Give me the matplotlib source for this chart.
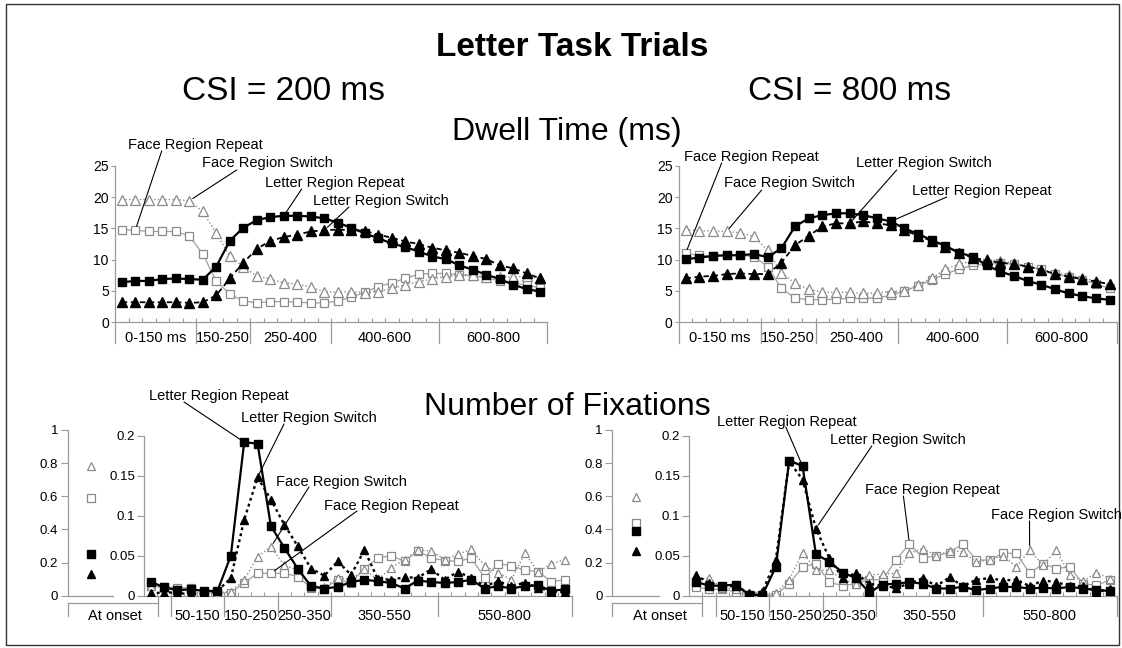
import numpy as np
import matplotlib
matplotlib.use('Agg')
import matplotlib.pyplot as plt
from matplotlib import transforms
from matplotlib.lines import Line2D
from matplotlib.patches import Rectangle
from matplotlib.ticker import FuncFormatter

# ---------------- data ----------------
# time bins (index 0..31, 25 ms bins)
dwell_groups = ["0-150 ms", "150-250", "250-400", "400-600", "600-800"]
fix_groups = ["50-150", "150-250", "250-350", "350-550", "550-800"]

# Dwell time (ms), CSI = 200 ms
dw200_face_switch = [19.6, 19.6, 19.6, 19.6, 19.6, 19.4, 17.7, 14.2, 10.6, 8.9, 7.4, 6.9, 6.3, 6.1, 5.6, 4.9,
                     4.8, 4.9, 4.7, 4.9, 5.4, 6.0, 6.5, 6.9, 7.3, 7.6, 7.6, 7.3, 7.3, 7.2, 7.4, 7.0]
dw200_face_repeat = [14.8, 14.7, 14.5, 14.5, 14.5, 13.8, 10.9, 6.6, 4.5, 3.4, 3.1, 3.3, 3.3, 3.2, 3.1, 3.1,
                     3.4, 4.0, 4.8, 5.7, 6.3, 7.0, 7.7, 7.8, 7.8, 7.6, 7.4, 7.1, 6.6, 6.3, 5.9, 5.5]
dw200_letter_repeat = [6.4, 6.6, 6.6, 6.9, 7.0, 6.9, 6.8, 8.9, 13.0, 15.1, 16.3, 16.8, 17.0, 17.0, 16.9, 16.6,
                       15.9, 15.1, 14.2, 13.4, 12.6, 12.0, 11.3, 10.5, 10.1, 9.1, 8.4, 7.6, 6.9, 6.0, 5.3, 4.9]
dw200_letter_switch = [3.2, 3.2, 3.2, 3.2, 3.2, 3.1, 3.2, 4.3, 7.0, 9.5, 11.7, 13.0, 13.6, 14.0, 14.5, 14.7,
                       14.8, 14.7, 14.6, 14.0, 13.5, 12.9, 12.5, 11.9, 11.5, 11.1, 10.6, 10.1, 9.1, 8.6, 7.8, 7.0]

# Dwell time (ms), CSI = 800 ms
dw800_face_switch = [14.8, 14.6, 14.6, 14.5, 14.3, 13.7, 11.5, 7.9, 6.2, 5.3, 4.8, 4.8, 4.8, 4.6, 4.7, 4.9,
                     5.0, 6.0, 7.0, 8.5, 9.3, 9.8, 10.1, 9.8, 9.4, 8.9, 8.4, 7.9, 7.6, 7.1, 6.6, 6.1]
dw800_face_repeat = [11.0, 10.7, 10.6, 10.7, 10.7, 10.5, 8.9, 5.4, 3.9, 3.6, 3.6, 3.7, 3.8, 3.8, 3.9, 4.3,
                     5.0, 5.8, 6.8, 7.7, 8.5, 9.1, 9.3, 9.4, 9.3, 8.9, 8.5, 7.7, 7.3, 6.8, 6.1, 5.4]
dw800_letter_repeat = [10.1, 10.3, 10.6, 10.7, 10.7, 10.9, 10.4, 11.8, 15.3, 16.6, 17.1, 17.4, 17.4, 17.1, 16.6, 16.1,
                       15.0, 14.1, 13.1, 12.2, 11.1, 10.5, 9.1, 8.1, 7.4, 6.6, 6.0, 5.3, 4.6, 4.2, 3.8, 3.6]
dw800_letter_switch = [7.0, 7.3, 7.4, 7.7, 7.8, 7.7, 7.7, 9.5, 12.3, 13.8, 15.3, 15.8, 15.8, 16.1, 15.8, 15.5,
                       14.7, 13.8, 13.0, 12.1, 11.1, 10.3, 9.9, 9.5, 9.3, 8.9, 8.4, 7.7, 7.3, 6.9, 6.5, 6.1]

# Number of fixations, CSI = 200 ms
fx200_face_switch = [0.012, 0.010, 0.008, 0.005, 0.003, 0.004, 0.005, 0.020, 0.049, 0.061, 0.038, 0.032, 0.011,
                     0.011, 0.022, 0.020, 0.033, 0.020, 0.035, 0.045, 0.057, 0.056, 0.045, 0.052, 0.058, 0.0375,
                     0.029, 0.020, 0.053, 0.030, 0.040, 0.045]
fx200_face_repeat = [0.0125, 0.011, 0.010, 0.010, 0.004, 0.003, 0.004, 0.016, 0.028, 0.028, 0.028, 0.024, 0.010,
                     0.009, 0.020, 0.016, 0.034, 0.047, 0.050, 0.043, 0.056, 0.047, 0.044, 0.043, 0.047, 0.0225,
                     0.040, 0.0375, 0.032, 0.030, 0.0175, 0.020]
fx200_letter_repeat = [0.0175, 0.0104, 0.007, 0.008, 0.006, 0.006, 0.050, 0.192, 0.190, 0.087, 0.060, 0.034, 0.012,
                       0.009, 0.011, 0.017, 0.020, 0.018, 0.016, 0.009, 0.019, 0.017, 0.016, 0.017, 0.020, 0.009,
                       0.012, 0.009, 0.012, 0.013, 0.006, 0.008]
fx200_letter_switch = [0.003, 0.004, 0.004, 0.001, 0.003, 0.006, 0.022, 0.095, 0.148, 0.120, 0.089, 0.062, 0.034,
                       0.025, 0.043, 0.026, 0.057, 0.021, 0.020, 0.023, 0.0225, 0.033, 0.020, 0.030, 0.022, 0.012,
                       0.018, 0.012, 0.016, 0.010, 0.005, 0.005]

# Number of fixations, CSI = 800 ms
fx800_face_switch = [0.020, 0.022, 0.010, 0.008, 0.001, 0.001, 0.003, 0.020, 0.054, 0.032, 0.032, 0.020, 0.015,
                     0.026, 0.027, 0.028, 0.053, 0.059, 0.050, 0.056, 0.055, 0.042, 0.045, 0.050, 0.036, 0.057,
                     0.038, 0.057, 0.026, 0.018, 0.029, 0.021]
fx800_face_repeat = [0.011, 0.008, 0.008, 0.005, 0.000, 0.000, 0.001, 0.015, 0.036, 0.040, 0.017, 0.0125, 0.015,
                     0.020, 0.020, 0.045, 0.065, 0.047, 0.050, 0.054, 0.065, 0.0446, 0.0446, 0.053, 0.053, 0.028,
                     0.040, 0.034, 0.036, 0.015, 0.013, 0.0196]
fx800_letter_repeat = [0.0175, 0.0125, 0.0125, 0.014, 0.001, 0.001, 0.036, 0.169, 0.162, 0.052, 0.0425, 0.029, 0.022,
                       0.004, 0.014, 0.015, 0.017, 0.015, 0.009, 0.009, 0.011, 0.007, 0.009, 0.011, 0.011, 0.009,
                       0.010, 0.009, 0.011, 0.009, 0.007, 0.006]
fx800_letter_switch = [0.026, 0.016, 0.012, 0.012, 0.003, 0.005, 0.045, 0.168, 0.145, 0.084, 0.047, 0.022, 0.028,
                       0.015, 0.012, 0.010, 0.015, 0.022, 0.012, 0.023, 0.012, 0.020, 0.022, 0.019, 0.020, 0.012,
                       0.019, 0.017, 0.012, 0.012, 0.005, 0.008]

# "At onset" values: face switch, face repeat, letter repeat, letter switch
onset200 = [0.78, 0.59, 0.25, 0.13]
onset800 = [0.594, 0.44, 0.39, 0.27]

# ---------------- figure ----------------
W, H = 1122, 648
plt.rcParams['font.family'] = ['Liberation Sans', 'DejaVu Sans']
fig = plt.figure(figsize=(W / 100, H / 100), dpi=100)
AXC = '#9a9a9a'
GRAY = '#8a8a8a'


def px_axes(x0, x1, ytop, ybot):
    return fig.add_axes([x0 / W, 1 - ybot / H, (x1 - x0) / W, (ybot - ytop) / H])


def fig_line(xs, ys, **kw):
    fig.add_artist(Line2D([x / W for x in xs], [1 - y / H for y in ys],
                          transform=fig.transFigure, **kw))


def styles(bottom):
    ms = 5.8 if bottom else 6.4
    return {
        'fs': dict(marker='^', mfc='white', mec=GRAY, color=GRAY, ls=(0, (1, 1.6)), lw=1.0, ms=ms + 0.6, mew=0.9),
        'fr': dict(marker='s', mfc='white', mec=GRAY, color='#a0a0a0', ls='-', lw=0.9, ms=ms, mew=0.9),
        'ls': dict(marker='^', mfc='black', mec='black', color='black',
                   ls=(0, (1.2, 1.4)) if bottom else (0, (3, 2)), lw=1.7 if bottom else 1.3, ms=ms + 0.6),
        'lr': dict(marker='s', mfc='black', mec='black', color='black', ls='-', lw=1.6, ms=ms),
    }


def main_panel(x0, x1, ytop, ybot, series, ylim, yticks, ytfs, bounds, centers, labels,
               sep_px, lab_px, tick_len, bottom):
    ax = px_axes(x0, x1, ytop, ybot)
    hpx = ybot - ytop
    x = np.arange(32)
    st = styles(bottom)
    for key in ['fr', 'fs', 'ls', 'lr']:
        ax.plot(x, series[key], **st[key], zorder=3)
    for s in ['top', 'right']:
        ax.spines[s].set_visible(False)
    for s in ['left', 'bottom']:
        ax.spines[s].set_color(AXC)
        ax.spines[s].set_linewidth(0.9)
    ax.set_yticks(yticks)
    ax.yaxis.set_major_formatter(FuncFormatter(lambda v, p: f'{v:g}'))
    ax.tick_params(axis='y', direction='out', length=tick_len, width=0.8, color=AXC,
                   labelsize=ytfs, pad=1.5)
    ax.set_xticks([])
    ax.set_xticks(np.arange(0.5, 31, 1), minor=True)
    ax.tick_params(axis='x', which='minor', direction='in', length=3, width=0.8, color=AXC)
    ax.patch.set_visible(False)
    tr = transforms.blended_transform_factory(ax.transData, ax.transAxes)
    for b in bounds:
        ax.add_line(Line2D([b, b], [0, -sep_px / hpx], transform=tr, color=AXC, lw=0.9, clip_on=False))
    for c, lab in zip(centers, labels):
        ax.text(c, -lab_px / hpx, lab, transform=tr, ha='center', va='center', fontsize=10.5)
    ax.set_xlim(-0.5, 31.5)
    ax.set_ylim(*ylim)
    return ax


def onset_panel(x0, x1, ytop, ybot, vals, xm):
    ax = px_axes(x0, x1, ytop, ybot)
    st = styles(True)
    for key, v in zip(['fs', 'fr', 'lr', 'ls'], vals):
        d = dict(st[key])
        d['ls'] = 'none'
        ax.plot([xm], [v], **d)
    for s in ['top', 'right']:
        ax.spines[s].set_visible(False)
    for s in ['left', 'bottom']:
        ax.spines[s].set_color(AXC)
        ax.spines[s].set_linewidth(0.9)
    ax.set_xlim(0, 1)
    ax.set_ylim(0, 1)
    ax.set_xticks([])
    ax.set_yticks(np.arange(0, 1.01, 0.2))
    ax.yaxis.set_major_formatter(FuncFormatter(lambda v, p: f'{v:g}'))
    ax.tick_params(axis='y', direction='out', length=5, width=0.8, color=AXC, labelsize=9.5, pad=2)
    ax.patch.set_visible(False)
    return ax


def leader(ax, xy, start):
    ax.annotate('', xy=xy, xycoords='data', xytext=(start[0], H - start[1]),
                textcoords='figure pixels',
                arrowprops=dict(arrowstyle='-', lw=0.8, color='black', shrinkA=0, shrinkB=3))


def label(txt, cx, cy):
    fig.text(cx / W, 1 - cy / H, txt, ha='center', va='center', fontsize=10.5)


# ---- top panels (dwell time) ----
top_bounds = [-0.5, 5.5, 9.5, 15.5, 23.5, 31.5]
top_centers = [2.5, 7.5, 12.5, 19.5, 27.5]
s200 = {'fs': dw200_face_switch, 'fr': dw200_face_repeat, 'lr': dw200_letter_repeat, 'ls': dw200_letter_switch}
s800 = {'fs': dw800_face_switch, 'fr': dw800_face_repeat, 'lr': dw800_letter_repeat, 'ls': dw800_letter_switch}
axA = main_panel(115, 547, 165.7, 322.3, s200, (0, 25), np.arange(0, 26, 5), 10, top_bounds,
                 top_centers, dwell_groups, 21, 16, 3, False)
axB = main_panel(678.7, 1116.5, 165.7, 322.3, s800, (0, 25), np.arange(0, 26, 5), 10, top_bounds,
                 top_centers, dwell_groups, 21, 16, 3, False)

# ---- bottom panels (number of fixations) ----
bot_bounds = [1.5, 5.5, 9.5, 13.5, 21.5, 31.5]
bot_centers = [3.5, 7.5, 11.5, 17.5, 26.5]
f200 = {'fs': fx200_face_switch, 'fr': fx200_face_repeat, 'lr': fx200_letter_repeat, 'ls': fx200_letter_switch}
f800 = {'fs': fx800_face_switch, 'fr': fx800_face_repeat, 'lr': fx800_letter_repeat, 'ls': fx800_letter_switch}
axC = main_panel(144, 571.5, 435.7, 595.7, f200, (0, 0.2), [0, 0.05, 0.1, 0.15, 0.2], 9.5, bot_bounds,
                 bot_centers, fix_groups, 20, 20, 5, True)
axD = main_panel(689, 1116.5, 435.7, 595.7, f800, (0, 0.2), [0, 0.05, 0.1, 0.15, 0.2], 9.5, bot_bounds,
                 bot_centers, fix_groups, 20, 20, 5, True)

onset_panel(67.7, 113.3, 430, 595.7, onset200, 0.51)
onset_panel(612.3, 659, 430, 595.7, onset800, 0.507)

# "At onset" category boxes
for (l, r, c) in [(67.7, 157.7, 115), (612.3, 702.3, 660)]:
    fig_line([l, r], [603.3, 603.3], color=AXC, lw=0.9)
    fig_line([l, l], [603.3, 615.5], color=AXC, lw=0.9)
    fig_line([r, r], [595.7, 615.5], color=AXC, lw=0.9)
    fig.text(c / W, 1 - 616 / H, 'At onset', ha='center', va='center', fontsize=10.5)

# ---- annotations ----
ann = [
    (axA, dw200_face_repeat, 1, "Face Region Repeat", (195, 145), (161.7, 151)),
    (axA, dw200_face_switch, 5, "Face Region Switch", (267.5, 163.3), (236.7, 170)),
    (axA, dw200_letter_repeat, 12, "Letter Region Repeat", (335, 182.7), (301.7, 189)),
    (axA, dw200_letter_switch, 15, "Letter Region Switch", (380.5, 200.7), (349, 207)),
    (axB, dw800_face_repeat, 0, "Face Region Repeat", (751.5, 156.7), (721.7, 163)),
    (axB, dw800_face_switch, 3, "Face Region Switch", (789, 183.3), (761.7, 190)),
    (axB, dw800_letter_switch, 12, "Letter Region Switch", (923.5, 163.3), (896.7, 170)),
    (axB, dw800_letter_repeat, 15, "Letter Region Repeat", (981.5, 190.7), (946.7, 197)),
    (axC, fx200_letter_repeat, 7, "Letter Region Repeat", (219.3, 396), (184, 402)),
    (axC, fx200_letter_switch, 8, "Letter Region Switch", (309.3, 418.3), (284, 424)),
    (axC, fx200_face_switch, 9, "Face Region Switch", (341.6, 481.7), (309, 487)),
    (axC, fx200_face_repeat, 9, "Face Region Repeat", (391, 506), (357, 511)),
    (axD, fx800_letter_repeat, 8, "Letter Region Repeat", (787, 421.7), (785.8, 427)),
    (axD, fx800_letter_switch, 9, "Letter Region Switch", (898, 440), (871.8, 446)),
    (axD, fx800_face_repeat, 16, "Face Region Repeat", (932.8, 490), (903.4, 496)),
    (axD, fx800_face_switch, 25, "Face Region Switch", (1056.5, 515), (1029.5, 521)),
]
for ax, ser, i, txt, tpos, spos in ann:
    label(txt, *tpos)
    leader(ax, (i, ser[i]), spos)

# ---- titles ----
fig.text(572 / W, 1 - 56 / H, 'Letter Task Trials', ha='center', va='baseline', fontsize=24, fontweight='bold')
fig.text(283 / W, 1 - 100 / H, 'CSI = 200 ms', ha='center', va='baseline', fontsize=24)
fig.text(850 / W, 1 - 100 / H, 'CSI = 800 ms', ha='center', va='baseline', fontsize=24)
fig.text(567 / W, 1 - 140 / H, 'Dwell Time (ms)', ha='center', va='baseline', fontsize=23)
fig.text(567 / W, 1 - 415 / H, 'Number of Fixations', ha='center', va='baseline', fontsize=23)

# border
fig.add_artist(Rectangle((6 / W, 1 - 645 / H), (1119 - 6) / W, (645 - 4) / H, transform=fig.transFigure,
                         fill=False, edgecolor='#333333', lw=1.0))

fig.savefig('out.png', dpi=100)
